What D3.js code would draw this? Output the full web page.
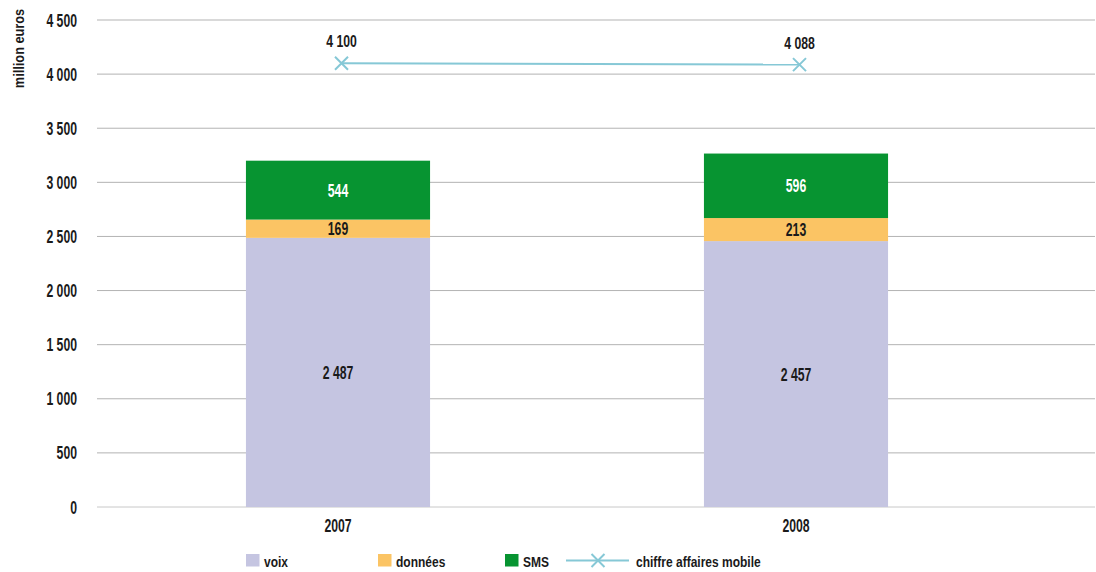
<!DOCTYPE html>
<html><head><meta charset="utf-8">
<script src="https://cdn.jsdelivr.net/npm/d3@7"></script>
<style>
body{margin:0;background:#fff;}
text{font-family:"Liberation Sans","Arial",sans-serif;font-weight:bold;}
</style></head>
<body><svg id="c" width="1096" height="572"></svg>
<script>
const years = ["2007", "2008"];
const voix = [2487, 2457];
const donnees = [169, 213];
const sms = [544, 596];
const chiffre = [4100, 4088];
const yTicks = [0, 500, 1000, 1500, 2000, 2500, 3000, 3500, 4000, 4500];
const seriesNames = ["voix", "données", "SMS"];
const lineName = "chiffre affaires mobile";
const colors = {voix:"#c5c5e1", "données":"#fbc464", SMS:"#079431", line:"#86c8d6"};

const svg = d3.select("#c");
const fmt = v => d3.format(",d")(v).replace(/,/g," ");

// condensed text helper
function txt(g, x, y, s, anchor, fill, fs, sx) {
  return g.append("text")
    .attr("transform", `translate(${x},${y}) scale(${sx},1)`)
    .attr("text-anchor", anchor || "start")
    .attr("font-size", fs)
    .attr("fill", fill || "#1a1a1a")
    .text(s);
}
const NUM_FS = 18, NUM_SX = 0.68;

const y = d3.scaleLinear().domain([0, 4500]).range([507, 20]);
const x = d3.scaleBand().domain(years).range([109, 1025]).paddingInner(0).paddingOuter(0);
const barW = x.bandwidth() * 0.402;
const gridX0 = 97, gridX1 = 1095;

// grid
svg.append("g").selectAll("line").data(yTicks).join("line")
  .attr("x1", gridX0).attr("x2", gridX1)
  .attr("y1", d => y(d)).attr("y2", d => y(d))
  .attr("stroke", d => d === 0 ? "#c8c8c8" : "#b3b3b3").attr("stroke-width", 1);

// y tick labels
const gy = svg.append("g");
yTicks.forEach(d => txt(gy, 77, y(d) + 6.5, fmt(d), "end", null, NUM_FS, NUM_SX));

// y title
svg.append("text").attr("transform", "translate(24,48.5) rotate(-90) scale(0.85,1)")
  .attr("text-anchor", "middle").attr("font-size", 15).attr("fill", "#1a1a1a")
  .text("million euros");

// stacked data
const rows = years.map((yr, i) => ({year: yr, "voix": voix[i], "données": donnees[i], "SMS": sms[i]}));
const stack = d3.stack().keys(seriesNames)(rows);

const gBars = svg.append("g");
stack.forEach(layer => {
  gBars.selectAll(null).data(layer).join("rect")
    .attr("x", d => x(d.data.year) + x.bandwidth()/2 - barW/2)
    .attr("width", barW)
    .attr("y", d => y(d[1]))
    .attr("height", d => y(d[0]) - y(d[1]))
    .attr("fill", colors[layer.key]);
});
const gLab = svg.append("g");
stack.forEach(layer => {
  layer.forEach(d => {
    txt(gLab, x(d.data.year) + x.bandwidth()/2, (y(d[0]) + y(d[1]))/2 + 6.5,
        fmt(d[1] - d[0]), "middle", layer.key === "SMS" ? "#ffffff" : "#1a1a1a", NUM_FS, NUM_SX);
  });
});

// x labels
const gx = svg.append("g");
years.forEach(d => txt(gx, x(d) + x.bandwidth()/2, 531.5, d, "middle", null, NUM_FS, NUM_SX));

// line
const lx = i => x(years[i]) + x.bandwidth()/2 + 3.5;
const line = d3.line().x((d, i) => lx(i)).y(d => y(d));
svg.append("path").datum(chiffre).attr("d", line)
  .attr("fill", "none").attr("stroke", colors.line).attr("stroke-width", 2);
const xm = (g, cx, cy, s) => {
  g.append("path").attr("d", `M${cx-s},${cy-s}L${cx+s},${cy+s}M${cx-s},${cy+s}L${cx+s},${cy-s}`)
    .attr("stroke", colors.line).attr("stroke-width", 2).attr("fill", "none");
};
const gm = svg.append("g");
chiffre.forEach((v, i) => {
  xm(gm, lx(i), y(v), 6.5);
  txt(gm, lx(i), y(v) - 16, fmt(v), "middle", null, 17, 0.72);
});

// legend
const lg = svg.append("g");
const legItems = [{k:"voix", x:246}, {k:"données", x:378}, {k:"SMS", x:505}];
legItems.forEach(it => {
  lg.append("rect").attr("x", it.x).attr("y", 554).attr("width", 13.5).attr("height", 12.5).attr("fill", colors[it.k]);
  txt(lg, it.x + 18, 567, it.k, "start", null, 15, 0.8);
});
lg.append("line").attr("x1", 566).attr("x2", 629).attr("y1", 560.5).attr("y2", 560.5)
  .attr("stroke", colors.line).attr("stroke-width", 2);
xm(lg, 598, 560.5, 6.5);
txt(lg, 636, 567, lineName, "start", null, 15, 0.8);
</script></body></html>
